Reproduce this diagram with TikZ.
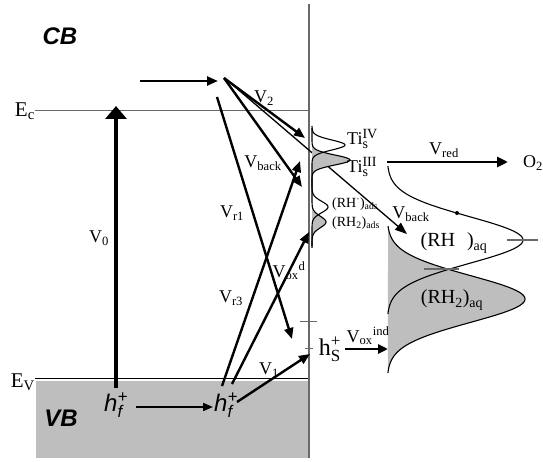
\documentclass[tikz,border=0pt]{standalone}
\usepackage{fontspec}
\setmainfont{Liberation Serif}
\setsansfont{Liberation Sans}
\usetikzlibrary{arrows.meta}
\definecolor{fillgray}{RGB}{190,190,190}
\definecolor{ifgray}{RGB}{105,105,105}
\makeatletter
\newcommand\supsub[2]{\ensuremath{^{\mbox{\fontsize\sf@size\z@\selectfont #1}}_{\mbox{\fontsize\sf@size\z@\selectfont #2}}}}
\makeatother
\newcommand\ssx[3]{\ensuremath{^{\mbox{\fontsize{#1}{#1}\selectfont #2}}_{\mbox{\fontsize{#1}{#1}\selectfont #3}}}}
\pgfmathdeclarefunction{gs}{3}{\pgfmathparse{exp(-min(((#1-#2)/#3)*((#1-#2)/#3),12))}}
\begin{document}
\begin{tikzpicture}[x=1pt,y=-1pt,
  arr/.style={line width=2.4pt,-{Triangle[length=11pt,width=9pt]}},
  thinarr/.style={line width=1.3pt,-{Triangle[length=12pt,width=9pt]}},
  lbl/.style={inner sep=0pt,font=\fontsize{18}{20}\selectfont},
  elbl/.style={inner sep=0pt,font=\fontsize{21}{23}\selectfont},
  smlbl/.style={inner sep=0pt,font=\fontsize{14}{16}\selectfont},
  aqlbl/.style={inner sep=0pt,font=\fontsize{20}{22}\selectfont},
  bandlbl/.style={inner sep=0pt,font=\sffamily\bfseries\itshape\fontsize{24}{26}\selectfont},
  holelbl/.style={inner sep=0pt,font=\sffamily\itshape\fontsize{24}{26}\selectfont},
  curve/.style={line width=1.1pt}]
\useasboundingbox (0,0) rectangle (543,462);
\fill[white] (0,0) rectangle (543,462);

% valence band
\fill[fillgray] (36,381) rectangle (309,458);
\node[elbl,anchor=east] (Ev) at (35,382) {E\textsubscript{V}};
\node[elbl,anchor=east] (Ec) at (35,111) {E\textsubscript{c}};
\coordinate (EvR) at (309,378);
\coordinate (EcR) at (309,110);
\draw[line width=0.8pt] (Ev.east |- EvR) -- (EvR);
\draw[line width=0.9pt,ifgray] (Ec.east |- EcR) -- (EcR);

% interface
\coordinate (ifT) at (309,4);
\coordinate (ifB) at (309,458);
\draw[line width=1.8pt,ifgray] (ifT) -- (ifB);
\draw[line width=1pt,ifgray] (300,321) -- (317,321);
\draw[line width=1pt,ifgray] (305,348) -- (313,348);

\node[bandlbl] (CB) at (60,36) {CB};
\node[bandlbl] (VB) at (61,418) {VB};

% holes
\node[holelbl] (hf1) at (116,405) {h\supsub{+}{f}};
\node[holelbl] (hf2) at (226,405) {h\supsub{+}{f}};
\coordinate (hfa) at (136,407);
\coordinate (hfb) at (213,407);
\draw[line width=1.8pt,-{Triangle[length=10pt,width=8pt]}] (hfa) -- (hfb);

% V0
\coordinate (v0s) at (116,388);
\coordinate (v0t) at (116,106);
\draw[line width=4.5pt,-{Triangle[length=13pt,width=21pt]}] (v0s) -- (v0t);
\node[lbl] (lV0) at (99,238) {V\textsubscript{0}};

% top arrows
\coordinate (topL) at (140,81);
\coordinate (topR) at (218,81);
\draw[arr] (topL) -- (topR);
\coordinate (src) at (224,78);
\coordinate (v2t) at (305,138);
\draw[arr] (src) -- (v2t);
\coordinate (vbt) at (302,187);
\draw[arr] (src) -- (vbt);
\coordinate (vbls) at (227,80);
\coordinate (vblt) at (407,234);
\draw[thinarr] (vbls) -- (vblt);

\node[lbl] (lV2) at (264,98) {V\textsubscript{2}};
\node[lbl] (lVb) at (263,163) {V\textsubscript{back}};
\node[lbl] (lVbl) at (411,214) {V\textsubscript{back}};

% crossing arrows
\coordinate (r1s) at (217,97);
\coordinate (r1t) at (292,339);
\draw[arr] (r1s) -- (r1t);
\coordinate (r3s) at (222,386);
\coordinate (r3t) at (300,161);
\draw[arr] (r3s) -- (r3t);
\coordinate (oxs) at (232,384);
\coordinate (oxt) at (309,232);
\draw[arr] (oxs) -- (oxt);
\coordinate (v1s) at (237,402);
\coordinate (v1t) at (310,354);
\draw[arr] (v1s) -- (v1t);

\node[lbl] (lVr1) at (232,213) {V\textsubscript{r1}};
\node[lbl] (lVr3) at (231,298) {V\textsubscript{r3}};
\node[lbl] (lVoxd) at (289,271) {V\textsubscript{ox}\textsuperscript{d}};
\node[lbl] (lV1) at (269,370) {V\textsubscript{1}};

% surface states
\fill[fillgray] plot[domain=128:248,samples=160,smooth,variable=\t]
  ({312+38*gs(\t,160,7)+14*gs(\t,222,8)},{\t}) -- (312,248) -- (312,128) -- cycle;
\draw[curve] plot[domain=128:248,samples=160,smooth,variable=\t]
  ({312+38*gs(\t,160,7)+14*gs(\t,222,8)},{\t});
\draw[curve] plot[domain=126:246,samples=160,smooth,variable=\t]
  ({312+33*gs(\t,145,7)+16*gs(\t,207,8)},{\t});

\node[lbl,anchor=west] (TiIV) at (347,139) {Ti\ssx{14}{IV}{s}};
\node[lbl,anchor=west] (TiIII) at (347,167) {Ti\ssx{14}{III}{s}};
\node[smlbl,anchor=west] (RHads) at (332,204) {(RH\textsuperscript{·})\textsubscript{ads}};
\node[smlbl,anchor=west] (RH2ads) at (332,223) {(RH\textsubscript{2})\textsubscript{ads}};

% V_red
\coordinate (redS) at (387,162);
\coordinate (redT) at (508,162);
\draw[line width=2.8pt,-{Triangle[length=11pt,width=10pt]}] (redS) -- (redT);
\node[lbl] (lVred) at (444,150) {V\textsubscript{red}};
\node[lbl] (O2) at (533,163) {O\textsubscript{2}};

% aqueous distributions
\fill[fillgray] plot[domain=226:373,samples=160,smooth,variable=\t]
  ({387+138*gs(\t,299,33)},{\t}) -- cycle;
\draw[curve] plot[domain=226:373,samples=160,smooth,variable=\t]
  ({387+138*gs(\t,299,33)},{\t});
\draw[curve] plot[domain=166:314,samples=160,smooth,variable=\t]
  ({387+136*gs(\t,240,33)},{\t});
\fill (457,213) circle (2pt);
\draw[line width=1.2pt,ifgray] (507,240) -- (538,240);
\draw[line width=1.2pt,ifgray] (424,269) -- (459,269);
\node[aqlbl] (RHaq) at (454,243) {(RH\hspace{12pt})\textsubscript{aq}};
\node[aqlbl] (RH2aq) at (452,300) {(RH\textsubscript{2})\textsubscript{aq}};

% surface hole
\node[inner sep=0pt,font=\fontsize{24}{26}\selectfont] (hs) at (330,349) {h\ssx{17}{+}{S}};
\coordinate (indS) at (345,349);
\coordinate (indT) at (388,349);
\draw[line width=2.6pt,-{Triangle[length=10pt,width=9pt]}] (indS) -- (indT);
\node[lbl] (lVind) at (368,336) {V\textsubscript{ox}\textsuperscript{ind}};
\end{tikzpicture}
\end{document}
